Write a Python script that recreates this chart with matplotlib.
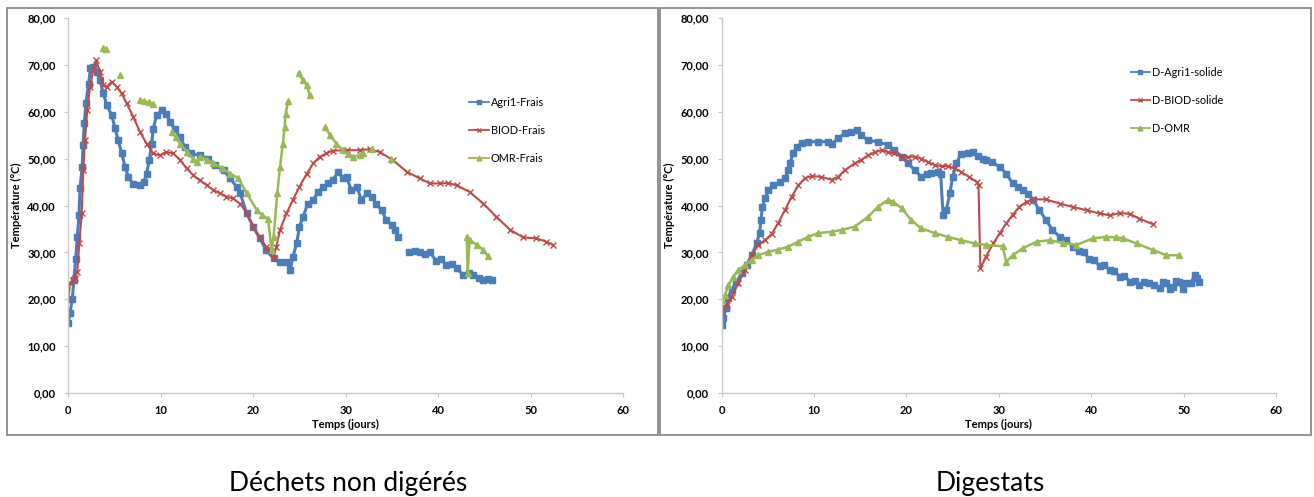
import numpy as np
import matplotlib
matplotlib.use("Agg")
import matplotlib.pyplot as plt
from matplotlib.patches import Rectangle
from matplotlib.ticker import FuncFormatter

nan = np.nan

# ---- data: Déchets non digérés ----
agri_x = [0, 0.18, 0.43, 0.6, 0.8, 0.97, 1.16, 1.27, 1.5, 1.6, 1.73, 1.9, 2.2, 2.4, 2.7, 3.07, 3.43, 3.8, 4.15,
          4.7, 5.05, 5.4, 5.77, 6.13, 6.49, 7.03, 7.75, 8.18, 8.47, 8.76, 9.01, 9.19, 9.55, 10.1, 10.6, 11.0, 11.5,
          12.1, 12.6, 13.3, 14.2, 15.1, 15.9, 16.8, 17.5, 18.2, 18.6, 19.3, 20.0, 20.7, 21.4, 22.2, 22.9, 23.6, 24.0,
          24.3, 24.7, 25.0, 25.4, 25.9, 26.5, 27.0, 27.6, 28.1, 28.6, 29.2, 29.7, 30.1, 30.6, 31.2, 31.7, 32.3, 32.8,
          33.3, 33.9, 34.4, 35.0, 35.3, 35.7, 36.3, 36.9, 37.5, 38.0, 38.6, 39.1, 39.8, 40.3, 40.9, 41.5, 42.0, 42.7,
          43.3, 43.8, 44.4, 44.9, 45.4, 45.8]
agri_y = [14.9, 17.1, 20.0, 24.2, 28.5, 33.2, 38.0, 43.7, 48.2, 52.9, 57.6, 61.8, 66.0, 69.3, 69.6, 68.5, 66.7, 63.9, 61.4,
          59.3, 56.5, 53.9, 51.2, 48.3, 46.1, 44.5, 44.3, 45.0, 46.8, 49.7, 53.2, 56.4, 59.3, 60.3, 59.6, 57.8, 56.4,
          54.6, 52.5, 51.1, 50.7, 50.0, 48.6, 47.5, 45.8, 44.0, 42.6, 38.3, 35.5, 33.0, 30.5, 28.7, 28.0, 28.0, 26.2,
          29.1, 31.9, 35.5, 37.6, 40.4, 41.2, 42.9, 44.0, 44.7, 45.4, 47.2, 45.8, 46.1, 43.3, 44.0, 41.2, 42.6, 41.9,
          40.4, 39.0, 36.9, 35.8, 34.8, 33.3, nan, 30.1, 30.3, 30.1, 29.6, 30.0, 28.2, 28.6, 27.3, 27.6, 26.6, 25.2,
          25.6, 25.2, 24.6, 24.1, 24.4, 24.1]

biod_x = [0, 0.18, 0.47, 0.72, 0.97, 1.19, 1.45, 1.62, 1.8, 2.05, 2.35, 2.7, 3.0, 3.43, 3.78, 4.15, 4.69, 5.23, 5.77,
          6.31, 7.03, 7.75, 8.47, 9.19, 9.9, 10.6, 11.35, 12.1, 12.8, 13.5, 14.2, 15.0, 15.7, 16.4, 17.1, 17.8, 18.6,
          19.3, 20.0, 20.7, 21.4, 22.2, 22.5, 22.9, 23.6, 24.3, 25.0, 25.8, 26.5, 27.2, 27.9, 28.6, 30.1, 31.5, 32.6,
          33.7, 35.1, 36.6, 38.0, 39.1, 40.2, 41.1, 42.0, 43.4, 44.9, 46.3, 47.8, 49.2, 50.6, 51.7, 52.4]
biod_y = [20.0, 23.4, 24.1, 24.5, 25.9, 31.9, 38.3, 47.5, 53.9, 60.3, 65.3, 68.9, 71.0, 68.5, 65.7, 65.3, 66.4, 65.3, 63.9,
          61.8, 58.9, 55.7, 53.2, 51.1, 50.7, 51.4, 51.1, 49.7, 47.9, 46.5, 45.4, 44.3, 43.3, 42.6, 41.9, 41.5, 40.4,
          38.3, 35.5, 33.3, 31.2, 28.7, 31.2, 34.8, 38.3, 41.2, 44.0, 46.8, 49.0, 50.4, 51.1, 51.7, 51.8, 51.8, 52.0,
          51.4, 49.7, 47.2, 45.8, 44.7, 44.7, 44.8, 44.3, 42.9, 40.4, 37.6, 34.8, 33.2, 33.0, 32.3, 31.6]

omr_x = [3.8, 4.1, 4.8, 5.6, 6.7, 7.75, 8.2, 8.7, 9.2, 10.2, 11.2, 11.6, 12.1, 12.8, 13.5, 13.9, 14.2, 15.0, 15.7, 16.6,
         17.5, 18.4, 19.3, 20.4, 21.0, 21.6, 22.0, 22.2, 22.6, 22.9, 23.2, 23.4, 23.5, 23.8, 24.3, 24.9, 25.4, 25.8,
         26.1, 27.0, 27.8, 28.3, 29.0, 29.7, 30.3, 30.8, 31.5, 31.9, 32.3, 32.8, 33.8, 34.9, 39.0, 43.1, 43.2, 43.4,
         44.2, 44.9, 45.4]
omr_y = [73.5, 73.3, nan, 67.8, nan, 62.5, 62.2, 62.0, 61.6, nan, 55.7, 54.6, 53.2, 51.5, 50.0, 49.3, 50.4, 49.8, 49.0, 48.0,
         46.8, 45.8, 42.6, 39.0, 37.9, 37.2, 30.5, 33.3, 42.6, 48.2, 53.2, 56.8, 59.6, 62.3, nan, 68.2, 66.7, 65.7,
         63.5, nan, 56.8, 55.0, 53.2, 51.8, 51.0, 50.4, 50.7, 51.2, nan, 52.0, nan, 50.0, nan, 33.3, 25.5, 32.6,
         31.6, 30.5, 29.2]

# ---- data: Digestats ----
dagri_x = [0, 0.18, 0.43, 0.65, 1.08, 1.6, 2.16, 2.7, 3.24, 3.78, 4.1, 4.25, 4.4, 4.68, 5.04, 5.58, 6.3, 6.84, 7.2, 7.38,
           7.74, 8.1, 8.65, 9.36, 10.4, 11.5, 11.9, 12.6, 13.3, 14.05, 14.6, 15.1, 15.85, 16.9, 18.0, 18.7, 19.5, 20.2,
           20.9, 21.6, 22.2, 22.7, 23.4, 23.7, 23.96, 24.3, 24.7, 25.0, 25.4, 25.9, 26.7, 27.2, 27.7, 28.3, 28.6, 29.3,
           30.1, 30.8, 31.5, 32.1, 32.6, 33.2, 33.7, 34.4, 35.1, 35.8, 36.6, 37.3, 38.0, 38.7, 39.2, 39.8, 40.3, 40.9,
           41.4, 42.0, 42.5, 43.1, 43.6, 44.2, 44.7, 45.2, 45.7, 46.3, 46.8, 47.4, 47.8, 48.1, 48.5, 48.8, 49.2, 49.5,
           49.9, 50.3, 50.8, 51.2, 51.5, 51.7]
dagri_y = [14.5, 15.9, 18.1, 20.2, 22.0, 23.7, 25.5, 27.3, 29.4, 31.9, 34.2, 36.9, 39.7, 41.5, 43.3, 44.3, 45.0, 45.8, 47.5,
           49.0, 51.1, 52.5, 53.4, 53.6, 53.6, 53.6, 53.2, 54.3, 55.4, 55.7, 56.1, 55.0, 53.9, 53.6, 52.9, 51.8, 50.4,
           49.0, 47.5, 46.1, 46.8, 47.0, 47.2, 46.8, 38.0, 39.0, 42.6, 46.1, 49.0, 51.0, 51.2, 51.4, 50.5, 50.0, 49.7,
           49.2, 48.2, 46.8, 44.7, 44.0, 43.3, 42.5, 41.2, 39.0, 36.9, 34.8, 33.3, 32.6, 31.2, 30.2, 30.0, 28.5, 28.4,
           27.1, 27.3, 26.2, 26.0, 24.8, 25.0, 23.7, 23.9, 23.0, 23.6, 23.4, 23.0, 22.3, 23.6, 23.4, 22.1, 22.7, 23.8,
           23.7, 22.2, 23.4, 23.5, 25.2, 24.6, 23.7]

dbiod_x = [0, 0.54, 1.08, 1.8, 2.5, 3.24, 3.96, 4.68, 5.4, 6.1, 6.84, 7.57, 8.3, 9.0, 9.73, 10.8, 11.9, 12.6, 13.3, 14.4,
           15.1, 15.85, 16.6, 17.3, 18.0, 18.7, 19.5, 20.2, 20.9, 21.6, 22.3, 23.1, 23.8, 24.5, 25.2, 25.9, 26.8, 27.6,
           27.8, 28.0, 28.6, 29.4, 30.1, 30.8, 31.5, 32.2, 33.0, 33.7, 35.1, 36.6, 38.0, 39.5, 40.9, 42.0, 43.1, 44.2,
           45.2, 46.7]
dbiod_y = [17.3, 18.8, 20.5, 23.4, 26.2, 29.4, 31.6, 32.6, 33.9, 36.2, 39.0, 41.9, 44.3, 45.8, 46.3, 46.1, 45.5, 46.1, 47.5,
           49.0, 49.7, 50.7, 51.4, 51.8, 51.4, 51.1, 50.4, 50.4, 50.4, 50.0, 49.3, 48.6, 48.4, 48.4, 47.9, 47.2, 46.1,
           45.0, 44.3, 26.6, 29.1, 31.9, 34.1, 36.2, 38.0, 39.7, 40.8, 41.3, 41.3, 40.4, 39.7, 39.0, 38.3, 37.9, 38.4,
           38.2, 37.2, 36.0]

domr_x = [0, 0.36, 0.72, 1.26, 1.8, 2.5, 3.24, 3.96, 5.04, 6.1, 7.2, 8.3, 9.36, 10.4, 11.9, 13.0, 14.4, 15.85, 16.9, 18.0,
          18.55, 19.5, 20.5, 21.6, 23.1, 24.5, 25.9, 27.4, 28.6, 30.4, 30.8, 31.5, 32.6, 34.1, 35.5, 36.9, 38.4, 40.2,
          41.6, 42.7, 43.4, 44.9, 46.7, 48.1, 49.5]
domr_y = [19.8, 20.9, 23.0, 24.8, 26.2, 27.3, 28.4, 29.4, 30.1, 30.6, 31.2, 32.3, 33.3, 34.1, 34.4, 34.8, 35.5, 37.6, 39.7,
          41.2, 40.8, 39.4, 36.9, 35.1, 34.1, 33.3, 32.6, 31.9, 31.6, 31.3, 28.0, 29.4, 30.9, 32.3, 32.6, 32.0, 31.6,
          33.0, 33.3, 33.2, 33.0, 31.9, 30.5, 29.4, 29.4]

yticks = [0, 10, 20, 30, 40, 50, 60, 70, 80]
xticks = [0, 10, 20, 30, 40, 50, 60]

blue = "#4A7EBB"
red = "#BE4B48"
green = "#98B954"

plt.rcParams["font.family"] = ["Lato", "DejaVu Sans"]

fig = plt.figure(figsize=(13.14, 4.97), dpi=100)

# outer frames
for x0 in [7 / 1314, 660 / 1314]:
    fig.patches.append(Rectangle((x0, 62 / 497), 651 / 1314, 427 / 497, transform=fig.transFigure,
                                 fill=False, edgecolor="#8a8a8a", linewidth=1.3))

ax1 = fig.add_axes([68.3 / 1314, 104 / 497, 554.7 / 1314, 375 / 497])
ax2 = fig.add_axes([721.7 / 1314, 104 / 497, 554.3 / 1314, 375 / 497])

blue_kw = dict(color=blue, marker="s", markersize=4, linewidth=2.2)
red_kw = dict(color=red, marker="x", markersize=3.8, markeredgewidth=1.0, linewidth=1.5)
green_kw = dict(color=green, marker="^", markersize=4, linewidth=1.8)

ax1.plot(agri_x, agri_y, label="Agri1-Frais", **blue_kw)
ax1.plot(biod_x, biod_y, label="BIOD-Frais", **red_kw)
ax1.plot(omr_x, omr_y, label="OMR-Frais", **green_kw)

ax2.plot(dagri_x, dagri_y, label="D-Agri1-solide", **blue_kw)
ax2.plot(dbiod_x, dbiod_y, label="D-BIOD-solide", **red_kw)
ax2.plot(domr_x, domr_y, label="D-OMR", **green_kw)

fmt = FuncFormatter(lambda v, p: f"{v:.2f}".replace(".", ","))
for ax in (ax1, ax2):
    ax.set_xlim(0, 60)
    ax.set_ylim(0, 80)
    ax.set_xticks(xticks)
    ax.set_yticks(yticks)
    ax.yaxis.set_major_formatter(fmt)
    for s in ("top", "right"):
        ax.spines[s].set_visible(False)
    for s in ("left", "bottom"):
        ax.spines[s].set_color("#c8c8c8")
        ax.spines[s].set_linewidth(1.0)
    ax.tick_params(direction="out", length=3, width=0.8, color="#c8c8c8", labelsize=8, pad=6)
    for lab in ax.get_xticklabels() + ax.get_yticklabels():
        lab.set_fontweight("bold")
    ax.set_xlabel("Temps (jours)", fontsize=8, fontweight="bold", labelpad=2)
    ax.set_ylabel("Température (°C)", fontsize=8, fontweight="bold", labelpad=4)
    ax.patch.set_alpha(0)

leg_kw = dict(loc="upper left", frameon=False, fontsize=7.8, labelspacing=1.55,
              handlelength=1.8, handletextpad=0.2, numpoints=1)
leg1 = ax1.legend(bbox_to_anchor=(0.705, 0.815), **leg_kw)
leg2 = ax2.legend(bbox_to_anchor=(0.72, 0.895), **leg_kw)
for leg in (leg1, leg2):
    for h in leg.legend_handles:
        h.set_linewidth(1.3)
        h.set_markersize(3.5)

fig.text(348 / 1314, 6 / 497, "Déchets non digérés", fontsize=19, ha="center", va="baseline")
fig.text(990 / 1314, 6 / 497, "Digestats", fontsize=19, ha="center", va="baseline")

fig.savefig("out.png", dpi=100)
